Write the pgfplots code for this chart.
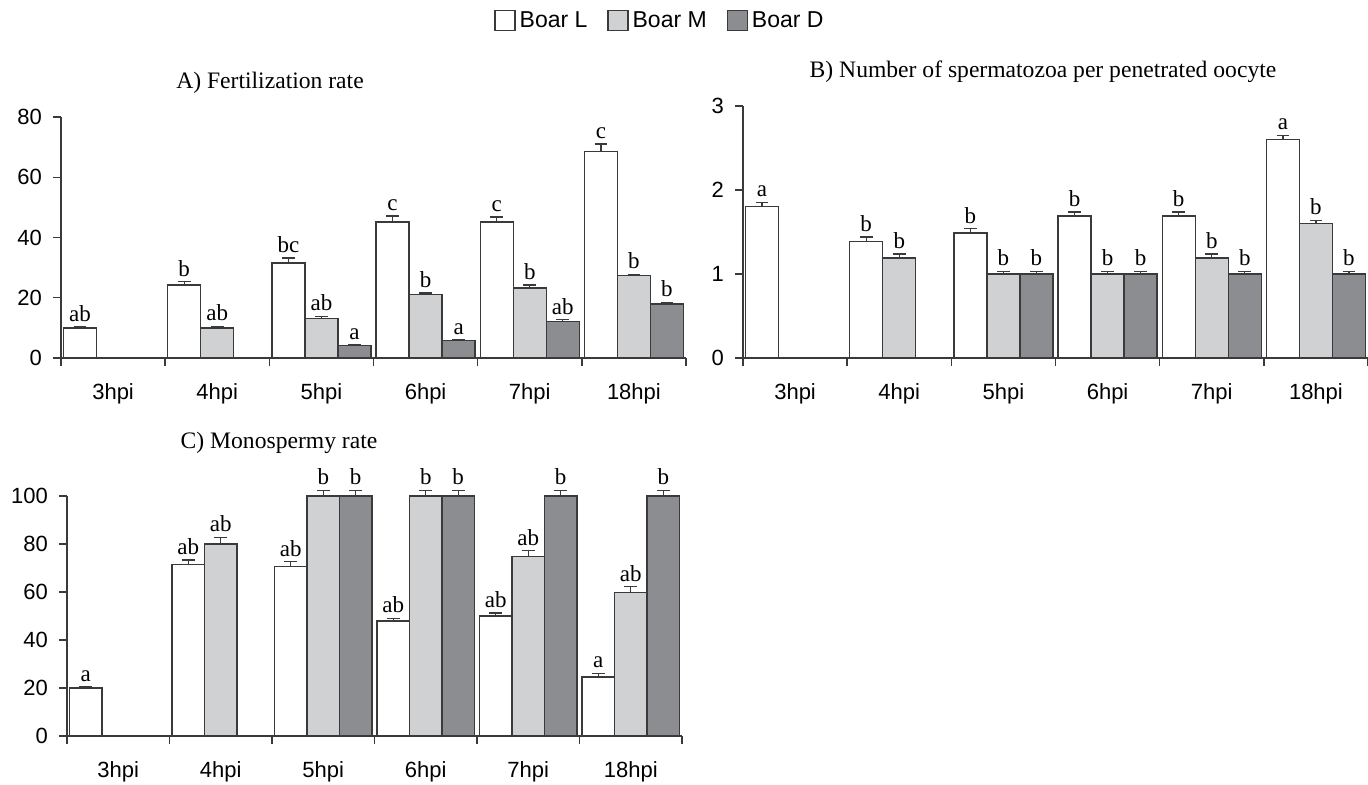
\documentclass[border=0pt]{standalone}
\usepackage{fontspec}
\setmainfont{Liberation Serif}
\newfontfamily\tickfont{Liberation Sans}
\usepackage{pgfplots}
\usepackage{pgfplotstable}
\pgfplotsset{compat=1.18}

\definecolor{cM}{HTML}{D0D1D3}
\definecolor{cD}{HTML}{8C8D90}
\definecolor{edge}{HTML}{3A3A3A}

% x = category centre; L/M/D = mean, e = error, l = letter
\pgfplotstableread{
x   L    Le   Ll  M    Me   Ml  D    De   Dl
0.5 10   0.3  ab  nan  nan  -   nan  nan  -
1.5 24.2 1.1  b   10   0.5  ab  nan  nan  -
2.5 31.5 1.7  bc  13.2 0.6  ab  4.2  0.2  a
3.5 45.2 2.0  c   21   0.6  b   5.8  0.2  a
4.5 45.2 1.6  c   23.2 1.0  b   12.1 0.6  ab
5.5 68.5 2.5  c   27.3 0.5  b   17.9 0.5  b
}\tabA

\pgfplotstableread{
x   L    Le   Ll  M    Me   Ml  D    De   Dl
0.5 1.80 0.05 a   nan  nan  -   nan  nan  -
1.5 1.39 0.05 b   1.19 0.05 b   nan  nan  -
2.5 1.49 0.05 b   1.00 0.03 b   1.00 0.03 b
3.5 1.69 0.05 b   1.00 0.03 b   1.00 0.03 b
4.5 1.69 0.05 b   1.19 0.05 b   1.00 0.03 b
5.5 2.60 0.05 a   1.60 0.04 b   1.00 0.03 b
}\tabB

\pgfplotstableread{
x   L    Le   Ll  M    Me   Ml  D    De   Dl
0.5 20   0.5  a   nan  nan  -   nan  nan  -
1.5 71.4 1.9  ab  80   2.7  ab  nan  nan  -
2.5 70.7 1.9  ab  100  2.4  b   100  2.4  b
3.5 47.9 1.1  ab  100  2.4  b   100  2.4  b
4.5 50   1.3  ab  74.7 2.5  ab  100  2.4  b
5.5 24.6 1.4  a   59.9 2.3  ab  100  2.4  b
}\tabC

\pgfplotsset{
  panel/.style={
    scale only axis, clip=false,
    xmin=0, xmax=6, ymin=0,
    axis x line*=bottom, axis y line*=left,
    axis line style={edge, line width=0.7pt, -},
    xtick={0.5,1.5,...,5.5},
    xticklabels={3hpi,4hpi,5hpi,6hpi,7hpi,18hpi},
    minor xtick={0,1,...,6},
    tick align=outside,
    major tick length=4pt, minor tick length=4pt,
    tick style={edge, line width=0.7pt},
    major x tick style={draw=none},
    tick label style={font=\fontsize{11}{13}\selectfont\tickfont},
    /pgf/number format/assume math mode=true,
    xticklabel style={yshift=-5pt},
    yticklabel style={xshift=-2pt},
  },
  barbase/.style={ybar, bar width=0.317, draw=edge, line width=0.7pt, forget plot},
  errb/.style={draw=none, mark=none, forget plot,
    error bars/y dir=plus, error bars/y explicit,
    error bars/error bar style={draw=edge, line width=0.7pt, solid},
    error bars/error mark=|,
    error bars/error mark options={draw=edge, line width=0.7pt, mark size=3.2pt}},
  lab/.style={draw=none, mark=none, forget plot, nodes near coords,
    point meta=explicit symbolic,
    nodes near coords style={anchor=south, inner sep=2.5pt,
      font=\fontsize{11.5}{13}\selectfont, text=black}},
}

\newcommand{\panelbars}[1]{%
  \addplot[barbase, bar shift=-0.317, fill=white] table[x=x, y=L] {#1};
  \addplot[barbase, bar shift=0, fill=cM] table[x=x, y=M] {#1};
  \addplot[barbase, bar shift=0.317, fill=cD] table[x=x, y=D] {#1};
  \addplot[errb] table[x expr=\thisrow{x}-0.317, y=L, y error=Le] {#1};
  \addplot[errb] table[x=x, y=M, y error=Me] {#1};
  \addplot[errb] table[x expr=\thisrow{x}+0.317, y=D, y error=De] {#1};
  \addplot[lab] table[x expr=\thisrow{x}-0.317, y expr=\thisrow{L}+\thisrow{Le}, meta=Ll] {#1};
  \addplot[lab] table[x=x, y expr=\thisrow{M}+\thisrow{Me}, meta=Ml] {#1};
  \addplot[lab] table[x expr=\thisrow{x}+0.317, y expr=\thisrow{D}+\thisrow{De}, meta=Dl] {#1};
}

\begin{document}
\begin{tikzpicture}
\path[use as bounding box] (0,0) rectangle (684pt,-392.5pt);

% A
\begin{axis}[panel, at={(30.5pt,-179pt)}, anchor=south west,
  width=312.5pt, height=120.5pt, ymax=80, ytick={0,20,...,80},
  legend style={at={(0.96,1.40)}, anchor=center, draw=none, fill=none,
    legend columns=3, font=\fontsize{11.5}{13}\selectfont\tickfont,
    /tikz/every even column/.append style={column sep=8pt}, inner sep=0pt},
  legend cell align=left,
  legend image code/.code={\draw[#1, draw=edge, line width=0.6pt] (0pt,-5pt) rectangle (10pt,5pt);}]
\addlegendimage{fill=white}
\addlegendentry{Boar L}
\addlegendimage{fill=cM}
\addlegendentry{Boar M}
\addlegendimage{fill=cD}
\addlegendentry{Boar D}
\panelbars{\tabA}
\end{axis}

% B
\begin{axis}[panel, at={(371.5pt,-179pt)}, anchor=south west,
  width=312.5pt, height=126pt, ymax=3, ytick={0,1,2,3}]
\panelbars{\tabB}
\end{axis}

% C
\begin{axis}[panel, at={(33.5pt,-368pt)}, anchor=south west,
  width=307.5pt, height=120pt, ymax=100, ytick={0,20,...,100}]
\panelbars{\tabC}
\end{axis}

\node[font=\fontsize{11.8}{13}\selectfont] at (135pt,-41.5pt) {A) Fertilization rate};
\node[font=\fontsize{11.8}{13}\selectfont] at (521.5pt,-36pt) {B) Number of spermatozoa per penetrated oocyte};
\node[font=\fontsize{11.8}{13}\selectfont] at (139.5pt,-221.5pt) {C) Monospermy rate};
\end{tikzpicture}
\end{document}
